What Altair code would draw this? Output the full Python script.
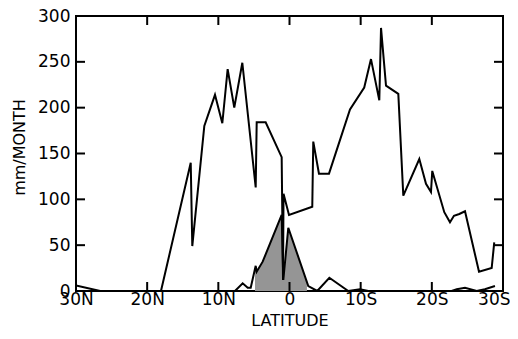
import altair as alt
import pandas as pd
import numpy as np

# Latitude: negative = North, positive = South
main_lat = [-18.06, -13.88, -13.66, -11.97, -10.47, -9.44, -8.69, -7.76, -6.63,
            -4.75, -4.61, -3.35, -1.10, -0.91, -0.84, -0.07, 3.20, 3.34, 4.14,
            5.55, 8.50, 10.50, 11.45, 12.62, 12.86, 13.56, 15.29, 15.99, 18.24,
            19.18, 19.88, 20.06, 21.75, 22.55, 23.11, 23.86, 24.66, 26.63, 28.41, 28.77]
main_val = [0, 140, 49, 180, 214, 183, 242, 200, 249,
            113, 184, 184, 146, 12, 106, 83, 92, 163, 128,
            128, 198, 222, 253, 208, 287, 224, 215, 104, 144,
            117, 108, 131, 86, 75, 82, 84, 87, 21, 25, 53]

small_lat = [-30.0, -26.6, -7.66, -6.58, -5.87, -5.45, -4.75, -4.61, -3.77, -1.10,
             -0.87, -0.17, 2.64, 3.90, 5.60, 8.26, 9.90, 11.07, 22.79, 23.50,
             24.66, 26.30, 27.45, 28.87]
small_val = [6, 0, 0, 8.4, 3.6, 3.6, 27.5, 21, 32, 83,
             12, 69, 5.4, 0, 14.5, 0, 2, 0, 0, 2,
             3.6, 0, 2, 5.4]

shade_from, shade_to = -4.85, 2.45

x_ticks = [-30, -20, -10, 0, 10, 20, 30]
x_tick_labels = ["30N", "20N", "10N", "0", "10S", "20S", "30S"]
y_ticks = [0, 50, 100, 150, 200, 250, 300]

W, H = 427, 275
TICK = 9
FONT = "DejaVu Sans"

main_df = pd.DataFrame({"lat": main_lat, "val": main_val, "i": range(len(main_lat))})
small_df = pd.DataFrame({"lat": small_lat, "val": small_val, "i": range(len(small_lat))})

inner = [l for l in small_lat if shade_from < l < shade_to]
shade_lats = [shade_from] + inner + [shade_to]
shade_vals = list(np.interp(shade_lats, small_lat, small_val))
shade_df = pd.DataFrame({"lat": shade_lats, "val": shade_vals})

xt_df = pd.DataFrame({"lat": x_ticks[1:-1]})
yt_df = pd.DataFrame({"val": y_ticks[1:-1]})

label_expr = " : ".join(
    f"datum.value == {v} ? '{t}'" for v, t in zip(x_ticks, x_tick_labels)
) + " : ''"
last_test = f"datum.value == {x_ticks[-1]}"

xs = alt.Scale(domain=[-30, 30], nice=False, zero=False)
ys = alt.Scale(domain=[0, 300], nice=False)
xaxis = alt.Axis(values=x_ticks, labelExpr=label_expr, title="LATITUDE",
                 tickSize=0, domain=False, grid=False, labelPadding=0,
                 titlePadding=5, labelFlush=False, labelOverlap=False,
                 labelAlign={"condition": {"test": last_test, "value": "right"},
                             "value": "center"},
                 labelOffset={"condition": {"test": last_test, "value": 7},
                              "value": 0})
yaxis = alt.Axis(values=y_ticks, title="mm/MONTH", tickSize=0, domain=False,
                 grid=False, labelPadding=6, titlePadding=10, labelOverlap=False,
                 titleY=131)

X = alt.X("lat:Q", scale=xs, axis=xaxis)
Y = alt.Y("val:Q", scale=ys, axis=yaxis)

area = alt.Chart(shade_df).mark_area(color="#959595", opacity=1).encode(x=X, y=Y)
main_line = alt.Chart(main_df).mark_line(color="black", strokeWidth=2, clip=True).encode(
    x=X, y=Y, order="i:Q")
small_line = alt.Chart(small_df).mark_line(color="black", strokeWidth=2, clip=True).encode(
    x=X, y=Y, order="i:Q")

left_ticks = alt.Chart(yt_df).mark_rule(color="black", strokeWidth=2).encode(
    y=Y, x=alt.value(0), x2=alt.value(TICK))
right_ticks = alt.Chart(yt_df).mark_rule(color="black", strokeWidth=2).encode(
    y=Y, x=alt.value(W - TICK), x2=alt.value(W))
bottom_ticks = alt.Chart(xt_df).mark_rule(color="black", strokeWidth=2).encode(
    x=X, y=alt.value(H), y2=alt.value(H - TICK))
top_ticks = alt.Chart(xt_df).mark_rule(color="black", strokeWidth=2).encode(
    x=X, y=alt.value(0), y2=alt.value(TICK))

chart = alt.layer(area, main_line, small_line, left_ticks, right_ticks,
                  bottom_ticks, top_ticks).properties(
    width=W, height=H,
    padding={"left": 68, "top": 8, "right": 7, "bottom": 40},
    autosize=alt.AutoSizeParams(type="none"),
    background="white",
).configure_view(stroke="black", strokeWidth=2).configure_axis(
    labelFont=FONT, titleFont=FONT, labelFontSize=17, titleFontSize=16,
    labelColor="black", titleColor="black", titleFontWeight="normal",
)

chart.save("out.html", embed_options={"renderer": "svg", "actions": False})
